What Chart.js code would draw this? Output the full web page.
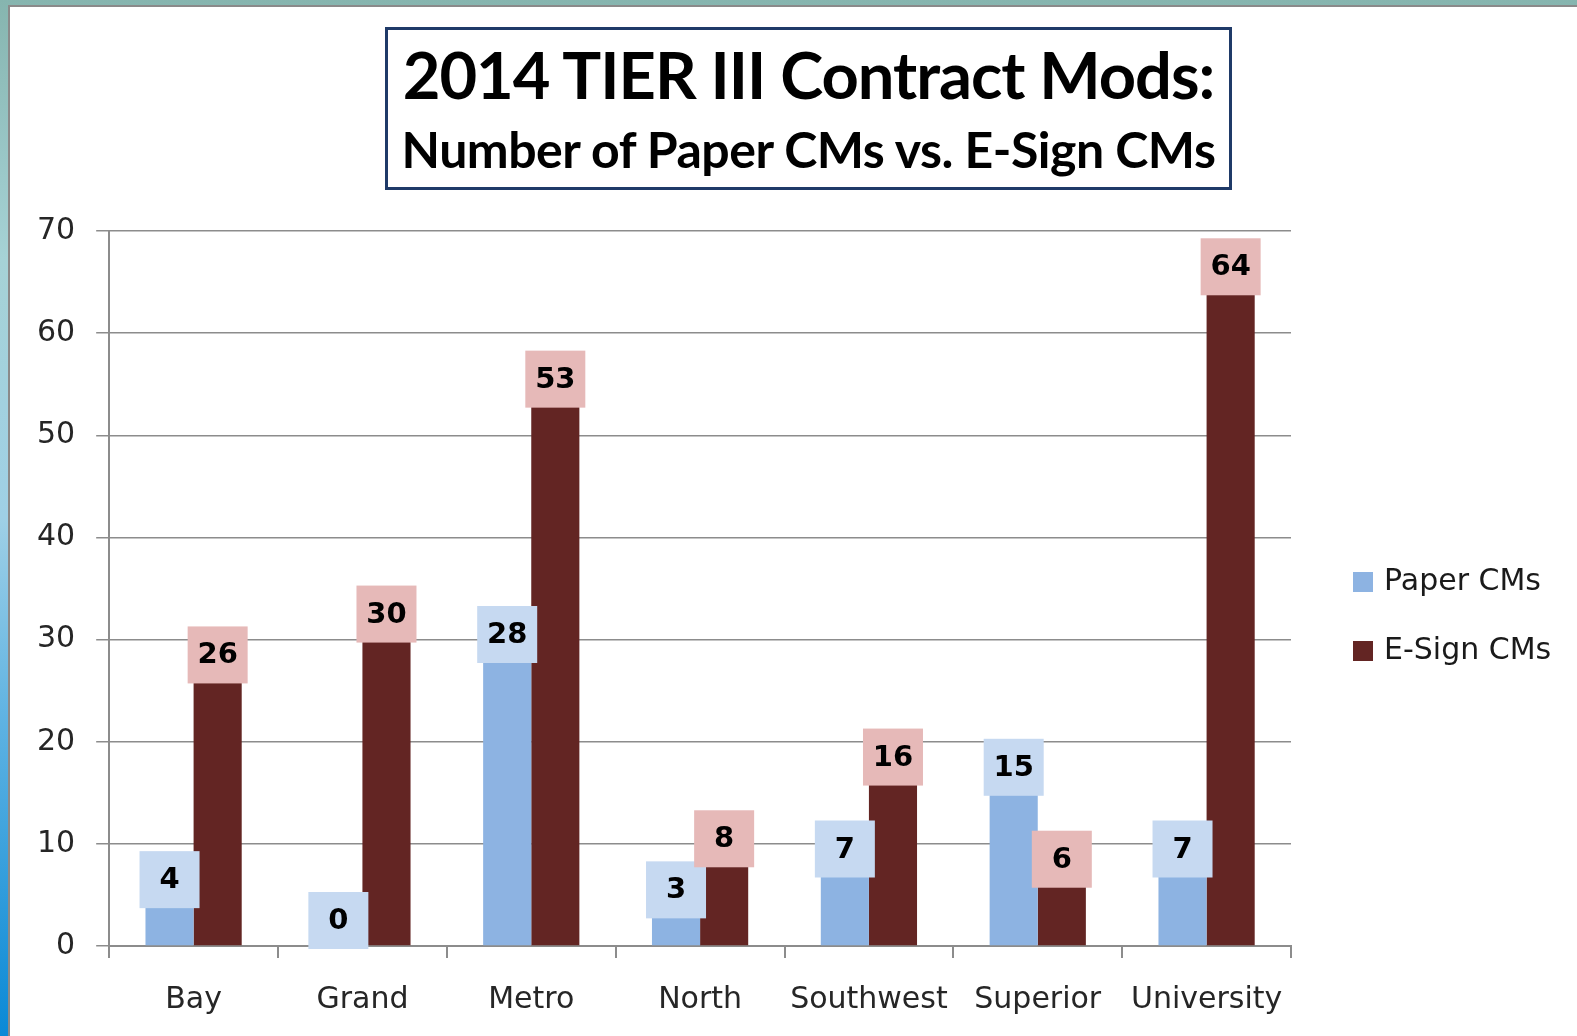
<!DOCTYPE html>
<html>
<head>
<meta charset="utf-8">
<script src="https://cdn.jsdelivr.net/npm/chart.js@4.4.1/dist/chart.umd.min.js"></script>
<style>
    html, body {
        margin: 0;
        padding: 0;
        width: 1577px;
        height: 1036px;
        overflow: hidden;
        background: linear-gradient(to bottom, #86b5af 0%, #a6d2d6 25%, #9fd0e6 50%, #5db2e2 70%, #0a89d6 100%);
    }
    #panel {
        position: absolute;
        left: 8px;
        top: 5px;
        width: 1600px;
        height: 1100px;
        background: #ffffff;
        border: 2px solid #8a8a8a;
    }
    #titleBox {
        position: absolute;
        left: 385px;
        top: 27px;
        width: 841px;
        height: 157px;
        border: 3px solid #1f3a68;
        background: #ffffff;
        text-align: center;
        font-family: Lato, "Open Sans", sans-serif;
        font-weight: bold;
        color: #000;
    }
    #titleBox .t1 {
        position: absolute;
        left: 0; right: 0;
        top: 9px;
        font-size: 65px;
        line-height: 70px;
        letter-spacing: -1px;
    }
    #titleBox .t2 {
        position: absolute;
        left: 0; right: 0;
        top: 92px;
        font-size: 50px;
        line-height: 54px;
        letter-spacing: -0.5px;
    }
    #chart {
        position: absolute;
        left: 0;
        top: 0;
    }
</style>
</head>
<body>
<div id="panel"></div>
<div id="titleBox">
    <div class="t1">2014 TIER III Contract Mods:</div>
    <div class="t2">Number of Paper CMs vs. E-Sign CMs</div>
</div>
<canvas id="chart" width="1577" height="1036"></canvas>
<script>
const regions = ['Bay', 'Grand', 'Metro', 'North', 'Southwest', 'Superior', 'University'];
const paperCMs = [4, 0, 28, 3, 7, 15, 7];
const esignCMs = [26, 30, 53, 8, 16, 6, 64];
const yTicks = [0, 10, 20, 30, 40, 50, 60, 70];

const seriesNames = ['Paper CMs', 'E-Sign CMs'];
const barColors = ['#8db3e2', '#632523'];
const labelBgColors = ['#c6d9f1', '#e6b9b8'];

const axisFont = { family: 'DejaVu Sans', size: 30 };
const gridGray = '#8c8c8c';

// value labels sitting on top of each bar, in a coloured box
const valueLabels = {
    id: 'valueLabels',
    afterDatasetsDraw(chart) {
        const ctx = chart.ctx;
        ctx.save();
        ctx.font = 'bold 29px "DejaVu Sans"';
        ctx.textAlign = 'center';
        ctx.textBaseline = 'middle';
        chart.data.datasets.forEach((ds, i) => {
            const meta = chart.getDatasetMeta(i);
            meta.data.forEach((bar, j) => {
                const w = 60, h = 57;
                const bottom = bar.y + 3;
                ctx.fillStyle = labelBgColors[i];
                ctx.fillRect(bar.x - w / 2, bottom - h, w, h);
                ctx.fillStyle = '#000000';
                ctx.fillText(String(ds.data[j]), bar.x, bottom - h / 2 + 1);
            });
        });
        ctx.restore();
    }
};

// legend to the right of the plot
const sideLegend = {
    id: 'sideLegend',
    afterDraw(chart) {
        const ctx = chart.ctx;
        const area = chart.chartArea;
        const x0 = area.right + 62;
        const rowY = [582, 651];
        ctx.save();
        ctx.font = '30px "DejaVu Sans"';
        ctx.textBaseline = 'middle';
        ctx.textAlign = 'left';
        seriesNames.forEach((name, i) => {
            ctx.fillStyle = barColors[i];
            ctx.fillRect(x0, rowY[i] - 10, 20, 20);
            ctx.fillStyle = '#1a1a1a';
            ctx.fillText(name, x0 + 31, rowY[i]);
        });
        ctx.restore();
    }
};

const ctx = document.getElementById('chart').getContext('2d');
new Chart(ctx, {
    type: 'bar',
    data: {
        labels: regions,
        datasets: [{
            label: seriesNames[0],
            data: paperCMs,
            backgroundColor: barColors[0],
            borderWidth: 0,
            categoryPercentage: 0.57,
            barPercentage: 1.0
        }, {
            label: seriesNames[1],
            data: esignCMs,
            backgroundColor: barColors[1],
            borderWidth: 0,
            categoryPercentage: 0.57,
            barPercentage: 1.0
        }]
    },
    options: {
        responsive: false,
        maintainAspectRatio: false,
        animation: false,
        layout: {
            padding: { left: 16, right: 286, top: 231, bottom: 0 }
        },
        scales: {
            x: {
                afterFit: axis => {
                    axis.height = 90; // keep the axis line at the same height as the original
                },
                grid: {
                    display: true,
                    drawOnChartArea: false,
                    drawTicks: true,
                    tickLength: 12,
                    color: gridGray,
                    lineWidth: 2,
                    offset: true
                },
                border: { display: true, color: gridGray, width: 2 },
                ticks: {
                    font: axisFont,
                    color: '#262626',
                    padding: 24,
                    maxRotation: 0,
                    autoSkip: false
                }
            },
            y: {
                min: 0,
                max: 70,
                afterBuildTicks: axis => {
                    axis.ticks = yTicks.map(v => ({ value: v }));
                },
                grid: {
                    color: gridGray,
                    lineWidth: 1.5,
                    drawTicks: true,
                    tickLength: 13
                },
                border: { display: true, color: gridGray, width: 2 },
                ticks: {
                    font: axisFont,
                    color: '#262626',
                    padding: 21
                }
            }
        },
        plugins: {
            legend: { display: false },
            tooltip: { enabled: false },
            title: { display: false }
        }
    },
    plugins: [valueLabels, sideLegend]
});
</script>
</body>
</html>
